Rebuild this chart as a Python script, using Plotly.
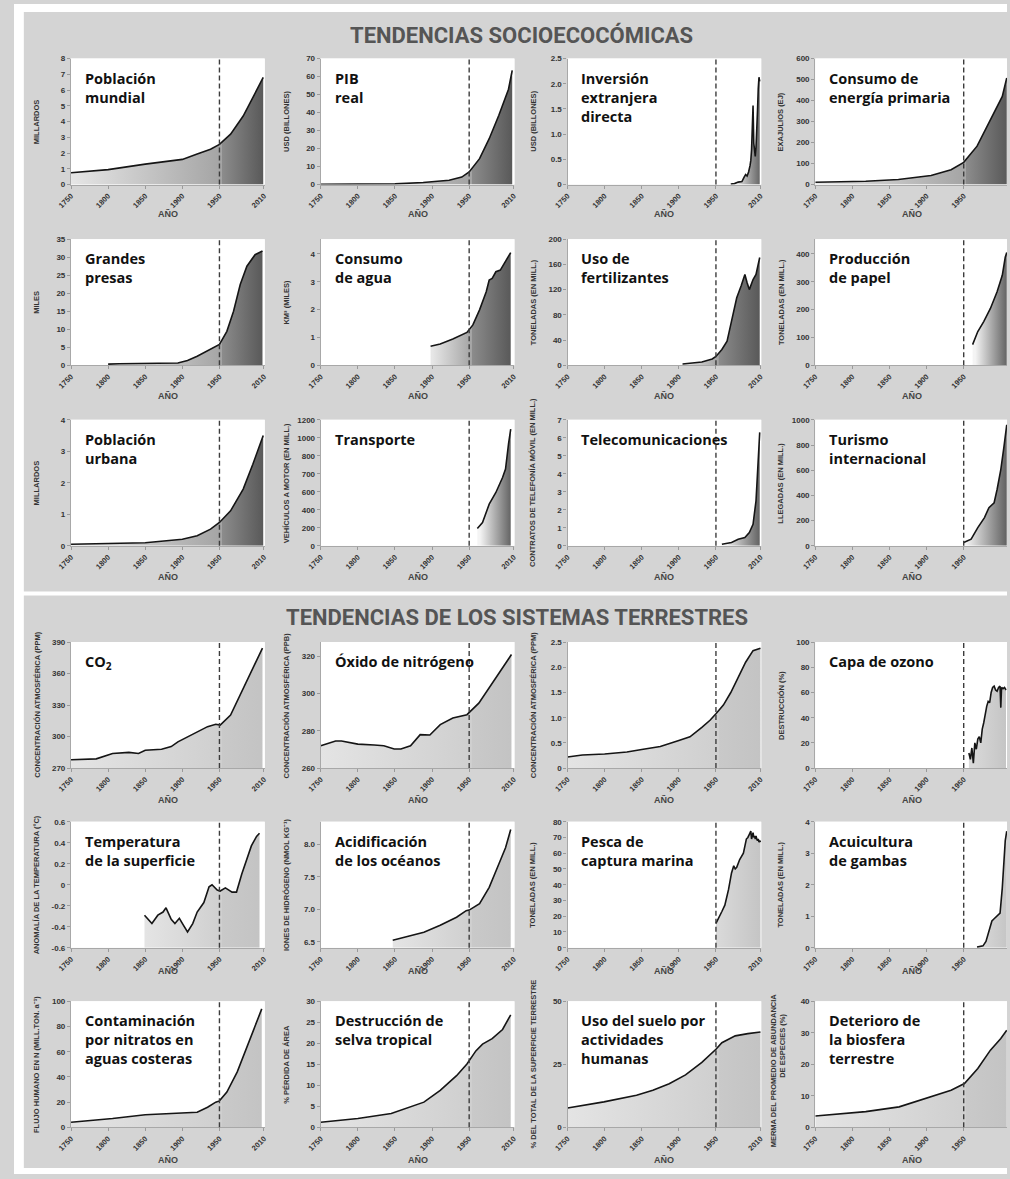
import plotly.graph_objects as go

W, H = 1010, 1179

# ---------------- Tendencias socioeconómicas ----------------
poblacion_anios = [1750, 1800, 1850, 1900, 1920, 1938, 1950, 1965, 1982, 1995, 2009]
poblacion_vals = [0.75, 0.95, 1.3, 1.6, 1.95, 2.25, 2.55, 3.2, 4.35, 5.5, 6.8]

pib_anios = [1750, 1800, 1850, 1888, 1900, 1923, 1940, 1947, 1950, 1964, 1977, 1990, 2003, 2008]
pib_vals = [0.15, 0.2, 0.4, 1.2, 1.5, 2.4, 4.2, 6.1, 7.0, 14.4, 25.5, 38.5, 53, 63.5]

inversion_anios = [1970, 1975, 1980, 1985, 1988, 1990, 1992, 1994, 1996, 1997, 1998, 1999,
                   2000, 2001, 2002, 2003, 2004, 2005, 2006, 2007, 2008, 2009]
inversion_vals = [0.01, 0.02, 0.05, 0.06, 0.15, 0.2, 0.17, 0.25, 0.38, 0.48, 0.69, 1.1,
                  1.57, 0.82, 0.62, 0.56, 0.74, 0.98, 1.46, 1.9, 2.13, 2.05]

energia_anios = [1750, 1818, 1862, 1906, 1933, 1950, 1968, 1982, 1995, 2002, 2008]
energia_vals = [11, 16, 24, 43, 71, 106, 183, 278, 373, 420, 508]

presas_anios = [1800, 1815, 1894, 1907, 1920, 1938, 1950, 1960, 1969, 1978, 1987, 1998, 2008]
presas_vals = [0.3, 0.4, 0.6, 1.3, 2.5, 4.35, 5.8, 9.4, 15, 22.4, 27.5, 30.7, 31.7]

agua_anios = [1898, 1911, 1928, 1942, 1947, 1955, 1964, 1973, 1977, 1981, 1986, 1992, 1997, 2001, 2006]
agua_vals = [0.68, 0.76, 0.94, 1.1, 1.18, 1.45, 1.99, 2.64, 3.06, 3.12, 3.36, 3.42, 3.65, 3.83, 4.05]

fertilizantes_anios = [1905, 1931, 1945, 1950, 1958, 1965, 1971, 1978, 1984, 1989, 1992, 1995, 2000, 2004, 2009]
fertilizantes_vals = [2, 5, 10, 14, 25, 38, 70, 107, 126, 144, 131, 120, 136, 144, 171]

papel_anios = [1962, 1969, 1977, 1986, 1995, 2002, 2006, 2008]
papel_vals = [74, 121, 157, 204, 264, 323, 388, 405]

urbana_anios = [1750, 1800, 1850, 1900, 1920, 1938, 1950, 1965, 1982, 1995, 2009]
urbana_vals = [0.05, 0.07, 0.1, 0.21, 0.32, 0.53, 0.74, 1.11, 1.8, 2.59, 3.5]

# motor-vehicle axis: eight evenly spaced ticks carrying the printed labels
transporte_ticks = [0, 200, 400, 600, 800, 1000, 1200, 1400]
transporte_etiquetas = ["0", "200", "400", "600", "700", "800", "1000", "1200"]
transporte_anios = [1961, 1968, 1977, 1986, 1995, 1999, 2003, 2006]
transporte_vals = [193, 259, 463, 593, 759, 852, 1130, 1296]

telecom_anios = [1958, 1971, 1980, 1989, 1995, 2000, 2004, 2006, 2009]
telecom_vals = [0.09, 0.19, 0.37, 0.46, 0.74, 1.2, 2.5, 3.8, 6.3]

turismo_anios = [1950, 1960, 1969, 1978, 1984, 1991, 1995, 2000, 2004, 2008]
turismo_vals = [26, 53, 145, 224, 303, 342, 447, 605, 776, 960]

# ---------------- Tendencias de los sistemas terrestres ----------------
co2_anios = [1750, 1784, 1806, 1828, 1841, 1850, 1872, 1885, 1894, 1916, 1934, 1945, 1951,
             1965, 1978, 1991, 2002, 2008]
co2_vals = [277.9, 278.8, 284, 285, 284, 287, 288, 290.5, 295, 303, 309.5, 311.7, 311,
            320.5, 339.5, 358.4, 375.8, 384.3]

n2o_anios = [1750, 1770, 1778, 1800, 1822, 1835, 1849, 1858, 1871, 1884, 1897, 1911, 1928,
             1947, 1963, 1981, 1994, 2007]
n2o_vals = [272, 274.6, 274.6, 272.9, 272.4, 272, 270.3, 270.3, 272, 278, 277.8, 283.4, 286.9,
            288.7, 294.9, 305.5, 313.5, 321]

metano_anios = [1750, 1770, 1800, 1830, 1850, 1875, 1900, 1915, 1931, 1942, 1950, 1960, 1970,
                1980, 1990, 2000, 2010]
metano_vals = [0.22, 0.26, 0.28, 0.32, 0.37, 0.43, 0.55, 0.62, 0.81, 0.95, 1.08, 1.25, 1.5,
               1.8, 2.1, 2.33, 2.38]

ozono_anios = [1957, 1959, 1961, 1963, 1965, 1967, 1969, 1971, 1973, 1975, 1977, 1979, 1981,
               1983, 1985, 1987, 1989, 1991, 1993, 1995, 1997, 1999, 2000, 2001, 2003, 2005, 2007]
ozono_vals = [12, 7, 16, 4, 20, 15, 23, 25, 20, 31, 36, 43, 49, 53, 52, 60, 64, 65, 62, 61,
              64, 65, 48, 64, 63, 64, 62]

temperatura_anios = [1849, 1859, 1867, 1874, 1878, 1885, 1890, 1896, 1901, 1907, 1914, 1920,
                     1929, 1936, 1940, 1947, 1951, 1958, 1967, 1973, 1980, 1987, 1993, 2000, 2004]
temperatura_vals = [-0.29, -0.37, -0.29, -0.26, -0.22, -0.33, -0.37, -0.32, -0.38, -0.45, -0.37,
                    -0.26, -0.17, -0.02, 0.0, -0.05, -0.06, -0.03, -0.07, -0.07, 0.1, 0.24, 0.37,
                    0.46, 0.49]

acidez_anios = [1847, 1867, 1889, 1911, 1933, 1946, 1950, 1964, 1977, 1990, 1999, 2006]
acidez_vals = [6.525, 6.58, 6.65, 6.755, 6.88, 6.98, 6.99, 7.09, 7.34, 7.70, 7.95, 8.23]

pesca_anios = [1950, 1953, 1958, 1962, 1967, 1971, 1974, 1976, 1978, 1982, 1987, 1991, 1993,
               1995, 1996, 1997, 1998, 1999, 2000, 2001, 2002, 2003, 2004, 2005, 2006, 2007,
               2008, 2009, 2010]
pesca_vals = [15.5, 18.7, 23, 27, 37, 47.5, 52, 50, 51, 56, 60, 69, 70, 72, 73, 74, 69, 72,
              73, 70, 71, 69, 71, 69, 68, 69, 67, 68, 67]

gambas_anios = [1968, 1976, 1980, 1984, 1988, 1991, 1995, 1999, 2002, 2004, 2006, 2008]
gambas_vals = [0.02, 0.06, 0.2, 0.55, 0.85, 0.92, 1.0, 1.1, 1.9, 2.6, 3.4, 3.7]

nitratos_anios = [1750, 1806, 1850, 1894, 1920, 1934, 1945, 1950, 1960, 1974, 1987, 1998, 2007]
nitratos_vals = [4, 7, 10, 11, 12, 16, 20, 21, 28, 44, 64, 81, 94]

selva_anios = [1750, 1800, 1845, 1889, 1911, 1933, 1947, 1959, 1968, 1981, 1995, 2006]
selva_vals = [1.2, 2.1, 3.3, 6.0, 8.8, 12.3, 15.1, 18.2, 19.8, 21.1, 23.3, 26.8]

suelo_anios = [1750, 1799, 1843, 1865, 1887, 1909, 1931, 1950, 1958, 1976, 1993, 2010]
suelo_vals = [7.7, 10.1, 12.7, 14.7, 17.3, 20.8, 25.8, 31, 33.6, 36.3, 37.2, 37.8]

biosfera_anios = [1750, 1818, 1863, 1907, 1933, 1951, 1969, 1986, 2000, 2008]
biosfera_vals = [3.6, 5.0, 6.5, 9.7, 11.8, 13.9, 18.7, 24.5, 28.2, 30.8]

ANIOS_TICKS = [1750, 1800, 1850, 1900, 1950, 2010]
ANIO_CORTE = 1950


def rango(a, b, paso):
    out, v = [], a
    while v <= b + 1e-9:
        out.append(round(v, 4))
        v += paso
    return out


def panel(titulo, eje_y, x, y, yr, yt, ytxt=None, tipo="socio"):
    return dict(titulo=titulo, eje_y=eje_y, x=x, y=y, yr=yr, yt=yt,
                ytxt=ytxt if ytxt else [str(int(v)) if float(v).is_integer() else str(v) for v in yt],
                tipo=tipo)


DEC = ["0", "0.5", "1.0", "1.5", "2.0", "2.5"]

paneles = [
    panel("Población<br>mundial", "MILLARDOS", poblacion_anios, poblacion_vals, [0, 8], rango(0, 8, 1)),
    panel("PIB<br>real", "USD (BILLONES)", pib_anios, pib_vals, [0, 70], rango(0, 70, 10)),
    panel("Inversión<br>extranjera<br>directa", "USD (BILLONES)", inversion_anios, inversion_vals,
          [0, 2.5], rango(0, 2.5, 0.5), DEC),
    panel("Consumo de<br>energía primaria", "EXAJULIOS (EJ)", energia_anios, energia_vals,
          [0, 600], rango(0, 600, 100)),
    panel("Grandes<br>presas", "MILES", presas_anios, presas_vals, [0, 35], rango(0, 35, 5)),
    panel("Consumo<br>de agua", "KM³ (MILES)", agua_anios, agua_vals, [0, 4.53], rango(0, 4, 1)),
    panel("Uso de<br>fertilizantes", "TONELADAS (EN MILL.)", fertilizantes_anios, fertilizantes_vals,
          [0, 200], rango(0, 200, 40)),
    panel("Producción<br>de papel", "TONELADAS (EN MILL.)", papel_anios, papel_vals, [0, 453],
          rango(0, 400, 100)),
    panel("Población<br>urbana", "MILLARDOS", urbana_anios, urbana_vals, [0, 4], rango(0, 4, 1)),
    panel("Transporte", "VEHÍCULOS A MOTOR (EN MILL.)", transporte_anios, transporte_vals,
          [0, 1400], transporte_ticks, transporte_etiquetas),
    panel("Telecomunicaciones", "CONTRATOS DE TELEFONÍA MÓVIL (EN MILL.)", telecom_anios, telecom_vals,
          [0, 7], rango(0, 7, 1)),
    panel("Turismo<br>internacional", "LLEGADAS (EN MILL.)", turismo_anios, turismo_vals,
          [0, 1000], rango(0, 1000, 200)),
    panel("CO<sub>2</sub>", "CONCENTRACIÓN ATMOSFÉRICA (PPM)", co2_anios, co2_vals, [270, 390],
          rango(270, 390, 30), tipo="tierra"),
    panel("Óxido de nitrógeno", "CONCENTRACIÓN ATMOSFÉRICA (PPB)", n2o_anios, n2o_vals, [260, 327.7],
          rango(260, 320, 20), tipo="tierra"),
    panel("", "CONCENTRACIÓN ATMOSFÉRICA (PPM)", metano_anios, metano_vals, [0, 2.5],
          rango(0, 2.5, 0.5), DEC, tipo="tierra"),
    panel("Capa de ozono", "DESTRUCCIÓN (%)", ozono_anios, ozono_vals, [0, 100], rango(0, 100, 20),
          tipo="tierra"),
    panel("Temperatura<br>de la superficie", "ANOMALÍA DE LA TEMPERATURA (°C)", temperatura_anios,
          temperatura_vals, [-0.6, 0.6], rango(-0.6, 0.6, 0.2),
          ["-0.6", "-0.4", "-0.2", "0", "0.2", "0.4", "0.6"], tipo="tierra"),
    panel("Acidificación<br>de los océanos", "IONES DE HIDRÓGENO (NMOL KG⁻¹)", acidez_anios, acidez_vals,
          [6.41, 8.35], [6.5, 7.0, 7.5, 8.0], ["6.5", "7.0", "7.5", "8.0"], tipo="tierra"),
    panel("Pesca de<br>captura marina", "TONELADAS (EN MILL.)", pesca_anios, pesca_vals, [0, 80],
          rango(0, 80, 10), tipo="tierra"),
    panel("Acuicultura<br>de gambas", "TONELADAS (EN MILL.)", gambas_anios, gambas_vals, [0, 4],
          rango(0, 4, 1), tipo="tierra"),
    panel("Contaminación<br>por nitratos en<br>aguas costeras", "FLUJO HUMANO EN N (MILL.TON. a⁻¹)",
          nitratos_anios, nitratos_vals, [0, 100], rango(0, 100, 20), tipo="tierra"),
    panel("Destrucción de<br>selva tropical", "% PÉRDIDA DE ÁREA", selva_anios, selva_vals, [0, 30],
          rango(0, 30, 5), tipo="tierra"),
    panel("Uso del suelo por<br>actividades<br>humanas", "% DEL TOTAL DE LA SUPERFICIE TERRESTRE",
          suelo_anios, suelo_vals, [0, 50], [0, 25, 50], tipo="tierra"),
    panel("Deterioro de<br>la biosfera<br>terrestre", "MERMA DEL PROMEDIO DE ABUNDANCIA|DE ESPECIES (%)",
          biosfera_anios, biosfera_vals, [0, 40], rango(0, 40, 10), tipo="tierra"),
]

# Panel grid (pixels)
COL_X = [58, 312, 563, 815]
ROW_Y = [55, 237, 419, 643, 824, 1005]
ANCHO, ALTO = 197, 127
X_INI, X_FIN = 1750, 2011
ESCALA = ANCHO / (X_FIN - X_INI)
ANIO_DY = [30, 31, 31, 32, 23, 33]

FUENTE_T = "Liberation Sans, Arial, sans-serif"
FUENTE_H = "Roboto, Liberation Sans, sans-serif"
FUENTE_P = "Open Sans, sans-serif"

fig = go.Figure()
layout = {}
shapes = []
annotations = []

# white frame strips around the grey sheets
for (x0, y0, x1, y1) in [(0, 0, 10, H), (0, 0, W, 8), (0, 592, W, 596), (0, 1173, W, H)]:
    shapes.append(dict(type="rect", xref="paper", yref="paper", layer="below",
                       x0=x0 / W, x1=x1 / W, y0=1 - y1 / H, y1=1 - y0 / H,
                       fillcolor="white", line=dict(width=0)))


def px(x):
    return x / W


def py(y):
    return 1 - y / H


for i, p in enumerate(paneles):
    fila, col = divmod(i, 4)
    n = i + 1
    sfx = "" if n == 1 else str(n)
    xa, ya = "x" + sfx, "y" + sfx
    left, top = COL_X[col], ROW_Y[fila]
    right = min(left + ANCHO, W)
    x_max = X_INI + (right - left) / ESCALA
    bottom = top + ALTO

    layout["xaxis" + sfx] = dict(
        domain=[px(left), px(right)], range=[X_INI, x_max], anchor=ya,
        tickvals=ANIOS_TICKS, ticktext=[str(t) for t in ANIOS_TICKS], tickangle=-45,
        tickfont=dict(family=FUENTE_T, size=7.5, color="#333", weight="bold"),
        ticks="outside", ticklen=3, tickcolor="#9a9a9a", showline=True, linecolor="#a8a8a8",
        linewidth=1.2, showgrid=False, zeroline=False, fixedrange=True)
    layout["yaxis" + sfx] = dict(
        domain=[py(bottom), py(top)], range=p["yr"], anchor=xa,
        tickvals=p["yt"], ticktext=p["ytxt"],
        tickfont=dict(family=FUENTE_T, size=8, color="#333", weight="bold"),
        ticks="outside", ticklen=3, tickcolor="#9a9a9a", showline=True, linecolor="#a8a8a8",
        linewidth=1.2, showgrid=False, zeroline=False, fixedrange=True)

    xs, ys = p["x"], p["y"]
    x0, x1 = xs[0], xs[-1]
    base = p["yr"][0]
    if p["tipo"] == "socio":
        if x0 < ANIO_CORTE:
            f = (ANIO_CORTE - x0) / (x1 - x0)
            cs = [[0, "#e6e6e6"], [f, "#a4a4a4"], [min(f + 0.001, 1), "#8c8c8c"], [1, "#555555"]]
        else:
            cs = [[0, "#f4f4f4"], [1, "#555555"]]
    else:
        if x0 < ANIO_CORTE:
            f = (ANIO_CORTE - x0) / (x1 - x0)
            cs = [[0, "#e4e4e4"], [f, "#cfcfcf"], [min(f + 0.001, 1), "#c9c9c9"], [1, "#c3c3c3"]]
        else:
            cs = [[0, "#d9d9d9"], [1, "#c3c3c3"]]

    fig.add_trace(go.Scatter(
        x=list(xs) + [x1, x0], y=list(ys) + [base, base], fill="toself", mode="lines",
        line=dict(width=0, color="rgba(0,0,0,0)"),
        fillgradient=dict(type="horizontal", colorscale=cs, start=x0, stop=x1),
        hoverinfo="skip", showlegend=False, xaxis=xa, yaxis=ya))
    fig.add_trace(go.Scatter(
        x=xs, y=ys, mode="lines", line=dict(color="#151515", width=1.6),
        hoverinfo="skip", showlegend=False, xaxis=xa, yaxis=ya))

    # white plotting area
    shapes.append(dict(type="rect", xref=xa + " domain", yref=ya + " domain", layer="below",
                       x0=0, x1=1, y0=0, y1=1, fillcolor="white", line=dict(width=0)))
    # 1950 marker
    shapes.append(dict(type="line", xref=xa, yref=ya + " domain", x0=ANIO_CORTE, x1=ANIO_CORTE,
                       y0=0, y1=1, line=dict(color="#3c3c3c", width=1.4, dash="5px,3px")))

    if p["titulo"]:
        annotations.append(dict(x=px(left + 12), y=py(top + 8), xref="paper", yref="paper",
                                xanchor="left", yanchor="top", align="left", showarrow=False,
                                text=p["titulo"],
                                font=dict(family=FUENTE_P, size=14.5, color="#111", weight="bold")))
    lineas = p["eje_y"].split("|")
    fy = dict(family=FUENTE_T, size=7.5, color="#333", weight="bold")
    if len(lineas) == 1:
        annotations.append(dict(x=px(left - 35), y=py(top + ALTO / 2), xref="paper", yref="paper",
                                xanchor="center", yanchor="middle", showarrow=False, textangle=-90,
                                text=lineas[0], font=fy))
    else:
        annotations.append(dict(x=px(left - 43), y=py(top + ALTO / 2 + 6), xref="paper", yref="paper",
                                xanchor="center", yanchor="middle", showarrow=False, textangle=-90,
                                text=lineas[0], font=fy))
        annotations.append(dict(x=px(left - 33), y=py(top + 45), xref="paper", yref="paper",
                                xanchor="center", yanchor="middle", showarrow=False, textangle=-90,
                                text=lineas[1], font=fy))
    annotations.append(dict(x=px(left + ANCHO / 2), y=py(bottom + ANIO_DY[fila]), xref="paper",
                            yref="paper", xanchor="center", yanchor="middle", showarrow=False,
                            text="AÑO",
                            font=dict(family=FUENTE_T, size=9, color="#444", weight="bold")))

annotations.append(dict(x=px(516), y=py(31), xref="paper", yref="paper", showarrow=False,
                        xanchor="center", yanchor="middle",
                        text="TENDENCIAS SOCIOECOCÓMICAS",
                        font=dict(family=FUENTE_H, size=22, color="#555", weight="bold")))
annotations.append(dict(x=px(512), y=py(618), xref="paper", yref="paper", showarrow=False,
                        xanchor="center", yanchor="middle",
                        text="TENDENCIAS DE LOS SISTEMAS TERRESTRES",
                        font=dict(family=FUENTE_H, size=22, color="#555", weight="bold")))

fig.update_layout(
    width=W, height=H, margin=dict(l=0, r=0, t=0, b=0),
    paper_bgcolor="#d4d4d4", plot_bgcolor="white",
    shapes=shapes, annotations=annotations, showlegend=False, **layout)

fig.write_html("out.html")
